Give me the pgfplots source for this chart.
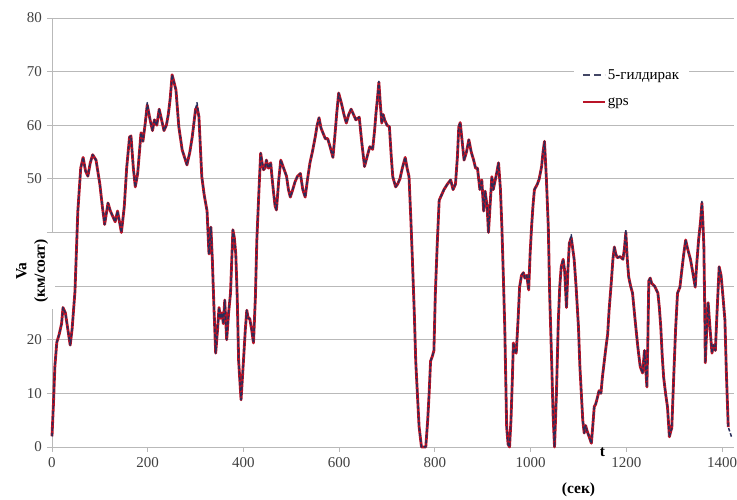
\documentclass[border=0pt]{standalone}
\usepackage{fontspec}
\setmainfont{Liberation Serif}
\usepackage{pgfplots}
\pgfplotsset{compat=1.18}
\usepackage{pgfplotstable}
\definecolor{gpsred}{RGB}{185,20,40}
\definecolor{wheelblue}{RGB}{40,45,90}
\definecolor{gridgray}{RGB}{185,185,185}
\pgfplotstableread{
t w g
0 2 2
3 8 8
6 15 15
10 19.5 19.5
15 21 21
20 23 23
23 26 26
28 25 25
33 22 22
38 19 19
42 22 22
48 29 29
54 44 44
60 52 52
65 54 54
70 51.5 51.5
75 50.5 50.5
80 53 53
85 54.5 54.5
92 53.5 53.5
100 49 49
105 45 45
110 41.5 41.5
117 45.5 45.5
122 44 44
127 43 43
132 42 42
137 44 44
141 42 42
145 40 40
151 44.8 44.8
156 52 52
162 57.8 57.8
165 58 58
170 52 52
174 48.5 48.5
179 51 51
186 58.6 58.6
190 57 57
195 60.5 60.5
199 64.2 63.8
205 61 61
210 59 59
214 61 61
219 60 60
224 63 63
229 61 61
234 59 59
239 60 60
243 62 62
247 65 65
251 69.4 69.4
255 68 68
259 66.6 66.6
265 59.7 59.7
272 55.4 55.4
277 54 54
282 52.6 52.6
288 55 55
293 57.8 57.8
300 63 63
303 64.2 63.4
307 61.6 61.6
313 50.4 50.4
318 47 47
324 44 44
328 36 36
332 41 41
335 35 35
338 27 27
342 17.5 17.5
346 22 22
349 26 26
352 24 24
355 25 25
358 23 23
361 27.4 27.4
365 20 20
369 25 25
373 28.7 28.7
378 40.5 40.5
381 39 39
384 36 36
387 28 28
390 16 16
395 8.8 8.8
400 16 16
404 22 22
407 25.5 25.5
410 24 24
413 24 24
417 22 22
421 19.4 19.4
425 28 28
428 38.6 38.6
432 47 47
436 54.8 54.8
439 53 53
442 51.7 51.7
445 52 52
448 53.5 53.5
452 52 52
457 53 53
460 50 50
463 47.4 47.4
466 45 45
469 44.2 44.2
474 50 50
478 53.5 53.5
484 52 52
490 50.5 50.5
494 48 48
498 46.6 46.6
503 48 48
508 49.5 49.5
513 50.5 50.5
519 51 51
524 48 48
529 46.6 46.6
534 50 50
539 53 53
544 55 55
550 57.8 57.8
554 60 60
558 61.4 61.4
562 59.5 59.5
566 58.6 58.6
571 57.5 57.5
576 57.5 57.5
581 56 56
587 54 54
591 58 58
595 62.3 62.3
599 66 66
602 65 65
605 64 64
610 62 62
615 60.4 60.4
620 62 62
625 63 63
630 62 62
635 61 61
642 61.5 61.5
647 57 57
653 52.3 52.3
658 54 54
664 56 56
670 55.5 55.5
674 59 59
677 62.3 62.3
680 65 65
683 68.2 68
686 64 64
689 60.4 60.4
692 62 62
695 61 61
700 60 60
705 59.7 59.7
709 54 54
712 50.4 50.4
718 48.5 48.5
722 49 49
727 50 50
732 52 52
738 54 54
742 52 52
746 50.4 50.4
750 42 42
753 35 35
757 25 25
760 16 16
764 9 9
767 3.8 3.8
772 0 0
776 0 0
781 0 0
785 5 5
788 10 10
791 16 16
795 17 17
798 18 18
801 28.7 28.7
805 38 38
809 46 46
814 47 47
819 48 48
826 49 49
833 49.8 49.8
838 48 48
843 49 49
847 54 54
850 59.7 59.7
853 60.5 60.5
857 57 57
861 53.5 53.5
866 55 55
871 57.3 57.3
876 55 55
881 53.5 53.5
885 52 52
889 52 52
894 48 48
898 49.8 49.8
902 44 44
905 47.7 47.7
909 45 45
912 40 40
916 46 46
919 50.4 50.4
922 48 48
925 49.3 49.3
929 51 51
933 53 53
937 48 48
940 41 41
943 32 32
946 22.4 22.4
950 3.7 3.7
953 0.5 0.5
956 0 0
959 5 5
962 13 13
964 19.4 19.4
967 18 18
970 17.5 17.5
974 24 24
977 29.8 29.8
981 32 32
985 32.5 32.5
988 31.5 31.5
992 32 32
996 29.3 29.3
999 36 36
1002 41 41
1005 45 45
1008 48 48
1014 49 49
1018 50 50
1023 52.3 52.3
1026 55 55
1029 57 57
1033 50 50
1037 41 41
1040 28 28
1044 16 16
1047 6 6
1050 0 0
1054 10 10
1058 23.7 23.7
1061 30 30
1064 33.6 33.6
1068 35 35
1071 33 33
1075 26 26
1078 33 33
1081 38 38
1085 39.6 39
1088 37 37
1091 35 35
1095 30 30
1100 22.4 22.4
1103 15 15
1106 10 10
1109 5 5
1112 2.6 2.6
1115 4 4
1118 3 3
1122 2 2
1127 0.7 0.7
1130 4 4
1133 7.5 7.5
1136 8 8
1139 9 9
1143 10.5 10.5
1147 10 10
1150 13 13
1154 16 16
1158 19 19
1161 21 21
1164 25.5 25.5
1168 30 30
1172 35 35
1175 37.3 37.3
1178 36 36
1181 35.3 35.3
1187 35.5 35.5
1193 35 35
1196 37 37
1199 40.5 40
1202 35 35
1205 31.7 31.7
1209 30 30
1213 28.7 28.7
1218 24 24
1224 18.7 18.7
1229 15 15
1234 13.8 13.8
1238 18 18
1241 14 14
1243 11.2 11.2
1245 20 20
1247 31 31
1250 31.5 31.5
1253 30.5 30.5
1259 30 30
1266 28.7 28.7
1269 26 26
1272 22.4 22.4
1275 17 17
1278 13 13
1282 10 10
1286 7.5 7.5
1290 1.9 1.9
1293 3 3
1295 3.5 3.5
1299 13 13
1303 22 22
1307 28.7 28.7
1312 29.8 29.8
1316 33 33
1320 36 36
1324 38.6 38.6
1328 37 37
1334 35 35
1338 33 33
1344 29.8 29.8
1347 34 34
1351 38.6 38.6
1355 42 42
1358 45.8 45.5
1360 42 42
1362 37.5 37.5
1364 25 25
1365 15.7 15.7
1368 22 22
1371 26.9 26.9
1375 22 22
1379 17.5 17.5
1382 19 19
1386 18 18
1390 26 26
1394 33.6 33.6
1398 32 32
1402 28 28
1406 23.7 23.7
1409 14 14
1413 3.7 3.7
1421 1.6 nan
}\speed

\begin{document}
\fontsize{15}{18}\selectfont
\begin{tikzpicture}
\begin{axis}[
  width=682pt, height=429pt, scale only axis,
  xmin=0, xmax=1425, ymin=0, ymax=80,
  clip=false,
  xtick={0,200,...,1400},
  ytick={0,10,...,80},
  yticklabels={0,10,20,,,50,60,70,80},
  axis x line*=bottom, axis y line*=left,
  ymajorgrids,
  grid style={color=gridgray, line width=0.9pt},
  axis line style={color=gridgray, line width=0.9pt},
  tick style={color=gridgray, line width=0.9pt},
  tick align=outside, major tick length=5pt,
  /pgf/number format/assume math mode=true,
  /pgf/number format/1000 sep={},
  ticklabel style={font=\fontsize{15}{18}\selectfont, text=black!75},
  unbounded coords=discard,
  ylabel={Va\\(км/соат)},
  ylabel style={font=\fontsize{15.5}{18.5}\selectfont\bfseries, align=center,
    fill=white, inner ysep=7pt, inner xsep=6pt,
    at={(axis description cs:-0.029,0.41)}, anchor=center},
  legend style={at={(axis description cs:0.765,0.895)}, anchor=north west,
    draw=none, fill=white, font=\fontsize{15}{18}\selectfont,
    row sep=12pt, inner xsep=8pt, inner ysep=4pt},
  legend cell align=left,
  reverse legend,
  legend image code/.code={\draw[#1] (0pt,0pt) -- (22pt,0pt);},
]
\addplot[color=gpsred, line width=2.8pt, line join=round,
  legend image post style={line width=2pt}] table[x=t, y=g] {\speed};
\addlegendentry{gps}
\addplot[color=wheelblue, line width=1.5pt, dash pattern=on 3.5pt off 2pt, line join=round,
  legend image post style={color=wheelblue!70!gray, line width=1.8pt, dash pattern=on 7pt off 4pt}] table[x=t, y=w] {\speed};
\addlegendentry{5-гилдирак}
\node[font=\fontsize{15.5}{18.5}\selectfont\bfseries] at (axis description cs:0.807,-0.012) {t};
\node[font=\fontsize{15.5}{18.5}\selectfont\bfseries] at (axis description cs:0.772,-0.1) {(сек)};
\end{axis}
\pgfresetboundingbox
\path (current axis.south west) ++(-52pt,-53pt) rectangle ([xshift=3pt,yshift=18pt]current axis.north east);
\end{tikzpicture}
\end{document}
